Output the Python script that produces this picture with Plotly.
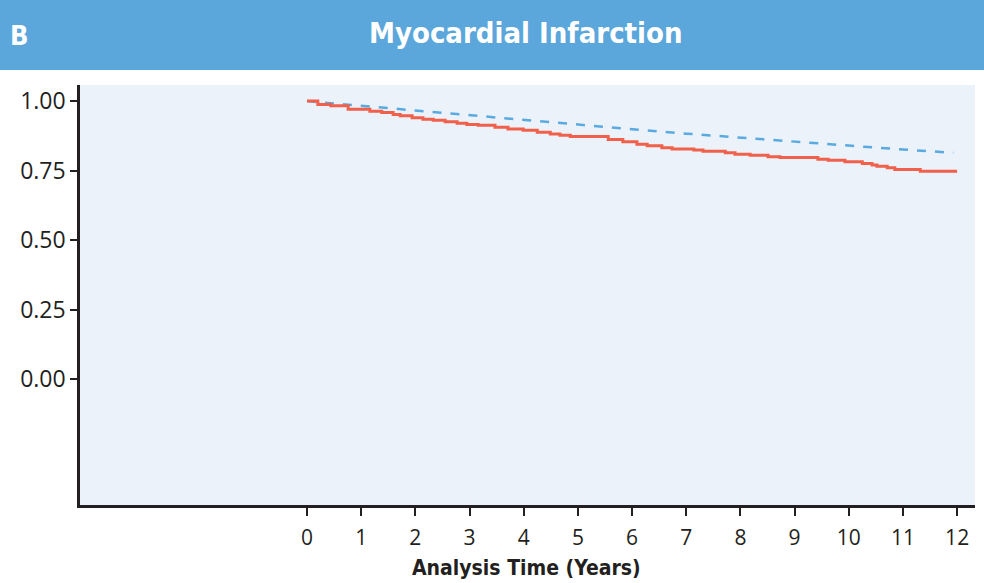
import plotly.graph_objects as go

# Kaplan-Meier step curve (observed)
km_time = [0.0, 0.20, 0.44, 0.76, 1.16, 1.38, 1.59, 1.72, 1.94, 2.14, 2.33, 2.55,
           2.77, 2.95, 3.16, 3.47, 3.71, 3.99, 4.25, 4.49, 4.67, 4.86, 5.56, 5.83,
           6.09, 6.28, 6.55, 6.74, 7.14, 7.31, 7.72, 7.90, 8.18, 8.51, 8.73, 9.43,
           9.62, 9.93, 10.25, 10.43, 10.52, 10.71, 10.85, 11.32, 12.0]
km_surv = [1.000, 0.988, 0.983, 0.971, 0.964, 0.959, 0.952, 0.947, 0.940, 0.935, 0.931, 0.926,
           0.920, 0.916, 0.913, 0.906, 0.900, 0.895, 0.888, 0.882, 0.877, 0.873, 0.862, 0.854,
           0.845, 0.839, 0.832, 0.828, 0.824, 0.820, 0.814, 0.809, 0.805, 0.800, 0.797, 0.791,
           0.787, 0.782, 0.776, 0.770, 0.766, 0.760, 0.754, 0.748, 0.748]

# expected survival (dashed)
exp_time = [0, 1, 2, 3, 4, 5, 6, 7, 8, 9, 10, 11, 11.93]
exp_surv = [1.000, 0.983, 0.966, 0.948, 0.931, 0.915, 0.899, 0.883, 0.868, 0.854, 0.840, 0.826, 0.814]

x_ticks = list(range(0, 13))
y_ticks = [0.0, 0.25, 0.5, 0.75, 1.0]

RED = "#f0604a"
BLUE = "#5aaae0"
HEAD = "#5ba6da"
INK = "#231f20"

fig = go.Figure()
fig.add_trace(go.Scatter(
    x=exp_time, y=exp_surv, mode="lines",
    line=dict(color=BLUE, width=2.5, dash="dash"), showlegend=False,
))
fig.add_trace(go.Scatter(
    x=km_time, y=km_surv, mode="lines", line_shape="hv",
    line=dict(color=RED, width=3), showlegend=False,
))

# header band (paper coords, plot area 80..975 x 85..505 px)
fig.add_shape(type="rect", xref="paper", yref="paper",
              x0=-0.1, x1=1.06, y0=(505 - 70) / 420, y1=(505 + 2) / 420 + 0.2,
              fillcolor=HEAD, line_width=0, layer="below")
fig.add_annotation(xref="paper", yref="paper", x=(526 - 80) / 895, y=(505 - 33) / 420,
                   xanchor="center", yanchor="middle",
                   text="<b>Myocardial Infarction</b>", showarrow=False,
                   font=dict(family="DejaVu Sans Condensed", size=29, color="white"))
fig.add_annotation(xref="paper", yref="paper", x=(19 - 80) / 895, y=(505 - 36) / 420,
                   xanchor="center", yanchor="middle",
                   text="<b>B</b>", showarrow=False,
                   font=dict(family="DejaVu Sans Condensed", size=27, color="white"))
# x-axis title
fig.add_annotation(xref="paper", yref="paper", x=(526 - 80) / 895, y=(505 - 568) / 420,
                   xanchor="center", yanchor="middle",
                   text="<b>Analysis Time (Years)</b>", showarrow=False,
                   font=dict(family="DejaVu Sans Condensed", size=21, color=INK))

fig.update_layout(
    width=984, height=583,
    paper_bgcolor="white", plot_bgcolor="#ebf2fa",
    margin=dict(l=80, r=9, t=85, b=78),
    font=dict(family="Open Sans", color=INK),
    xaxis=dict(
        range=[-4.19, 12.33], tickvals=x_ticks, showgrid=False, zeroline=False,
        showline=True, linecolor=INK, linewidth=2.5, automargin=False,
        ticks="outside", ticklen=8, tickwidth=1.5, tickcolor=INK,
        tickfont=dict(size=21), ticklabelstandoff=4,
    ),
    yaxis=dict(
        range=[-0.453, 1.058], tickvals=y_ticks, tickformat=".2f",
        showgrid=False, zeroline=False, automargin=False,
        showline=True, linecolor=INK, linewidth=2.5,
        ticks="outside", ticklen=7, tickwidth=1.5, tickcolor=INK,
        tickfont=dict(size=23),
    ),
)

fig.write_html("out.html", config={"displayModeBar": False},
               post_script="document.body.style.margin='0';")
